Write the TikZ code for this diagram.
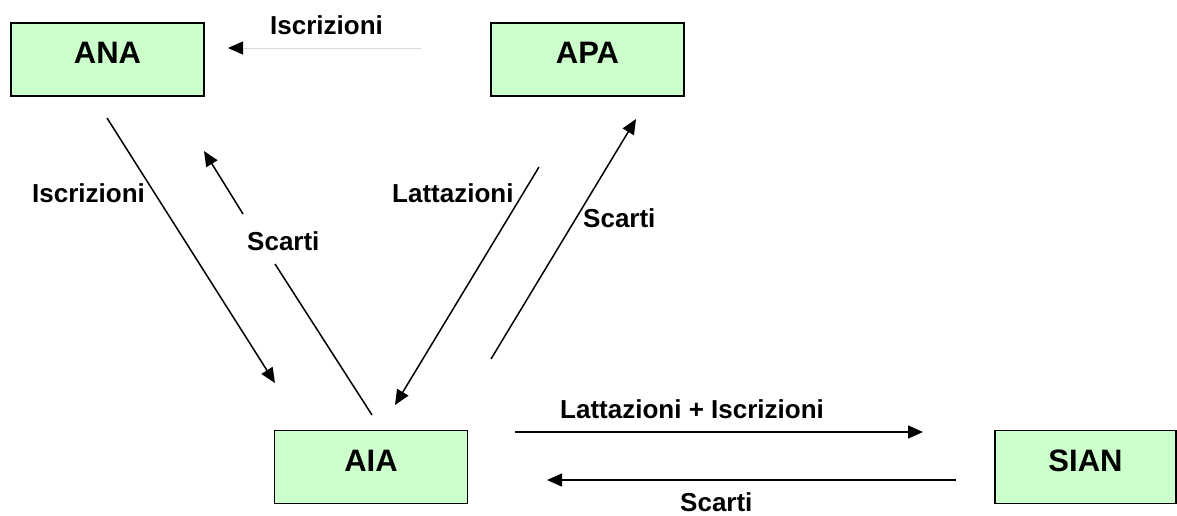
\documentclass[tikz,border=0pt]{standalone}
\usepackage{fontspec}
\setmainfont{Liberation Sans}
\usetikzlibrary{arrows.meta}
\definecolor{boxgreen}{HTML}{CCFFCC}
\begin{document}
\begin{tikzpicture}[x=1pt,y=-1pt,
  box/.style={draw=black, line width=1.8pt, fill=boxgreen, minimum width=193pt,
    minimum height=73pt, inner sep=0pt, text depth=13pt,
    font=\fontsize{31}{36}\selectfont\bfseries},
  lab/.style={font=\fontsize{26}{30}\selectfont\bfseries, inner sep=0pt, anchor=base west},
  arr/.style={line width=1.5pt, -{Triangle[length=15pt,width=13pt]}},
  ln/.style={line width=1.5pt}]
\useasboundingbox (0,0) rectangle (1177,515);

% boxes
\node[box] (ana) at (107.5,59.5) {ANA};
\node[box] (apa) at (587.5,59.5) {APA};
\node[box] (aia) at (371,467) {AIA};
\node[box, minimum width=181pt] (sian) at (1085.5,467) {SIAN};

% connector end points
\coordinate (t1) at (421,48);
\coordinate (t2) at (228,48);
\coordinate (a1) at (107,118);
\coordinate (a2) at (275,383);
\coordinate (s1) at (372,415);
\coordinate (s1b) at (275,264);
\coordinate (s2a) at (243,214);
\coordinate (s2) at (204,151);
\coordinate (l1) at (539,167);
\coordinate (l2) at (395,405);
\coordinate (r1) at (491,359);
\coordinate (r2) at (636,119);
\coordinate (h1) at (515,432);
\coordinate (h2) at (923,432);
\coordinate (b1) at (956,480);
\coordinate (b2) at (547,480);

% connectors
\draw[line width=0.8pt, draw=black!15, -{Triangle[length=15pt,width=13pt,color=black]}] (t1) -- (t2);
\draw[arr] (a1) -- (a2);
\draw[ln] (s1) -- (s1b);
\draw[arr] (s2a) -- (s2);
\draw[arr] (l1) -- (l2);
\draw[arr] (r1) -- (r2);
\draw[arr] (h1) -- (h2);
\draw[arr] (b1) -- (b2);

% labels
\node[lab] (lt) at (270,34) {Iscrizioni};
\node[lab] (la) at (32,202) {Iscrizioni};
\node[lab] (ls) at (247,250) {Scarti};
\node[lab] (ll) at (392,202) {Lattazioni};
\node[lab] (lr) at (583,227) {Scarti};
\node[lab] (lh) at (560,418) {Lattazioni + Iscrizioni};
\node[lab] (lb) at (680,511) {Scarti};
\end{tikzpicture}
\end{document}
